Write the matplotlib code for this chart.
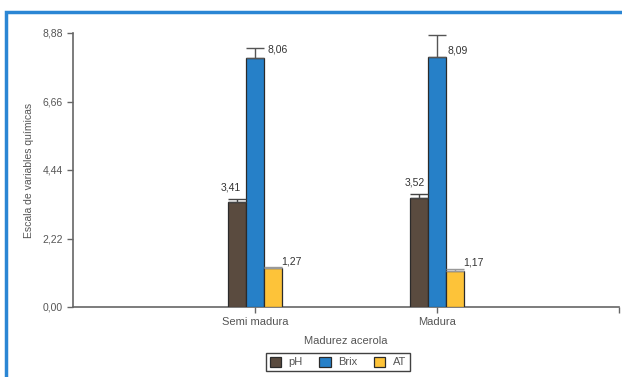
import numpy as np
import matplotlib
matplotlib.use("Agg")
import matplotlib.pyplot as plt
from matplotlib.patches import Rectangle, Patch

plt.rcParams['font.family'] = ['Liberation Sans', 'DejaVu Sans']

# data
categories = ['Semi madura', 'Madura']
series = ['pH', 'Brix', 'AT']
values = {
    'pH':   [3.41, 3.52],
    'Brix': [8.06, 8.09],
    'AT':   [1.27, 1.17],
}
errors = {
    'pH':   [0.10, 0.15],
    'Brix': [0.33, 0.71],
    'AT':   [0.03, 0.05],
}
labels = {
    'pH':   ['3,41', '3,52'],
    'Brix': ['8,06', '8,09'],
    'AT':   ['1,27', '1,17'],
}
yticks = [0.0, 2.22, 4.44, 6.66, 8.88]
ytick_labels = ['0,00', '2,22', '4,44', '6,66', '8,88']

colors = {'pH': '#5a4b3f', 'Brix': '#2680c8', 'AT': '#fdc339'}
err_colors = {'pH': '#444444', 'Brix': '#555555', 'AT': '#999999'}
gray = '#555555'

fig = plt.figure(figsize=(6.22, 3.77), dpi=100)
ax = fig.add_axes([73 / 622, 70 / 377, 546 / 622, 274 / 377])

x = np.arange(1, len(categories) + 1)
w = 0.1
offsets = {'pH': -w, 'Brix': 0.0, 'AT': w}

# label offsets in pixels (dx, dy, ha)
lab_off = {
    'pH':   [(-6, 6, 'center'), (-4, 6, 'center')],
    'Brix': [(12, -6, 'left'), (10, -20, 'left')],
    'AT':   [(8, 0, 'left'), (8, 2, 'left')],
}

for s in series:
    xs = x + offsets[s]
    ax.bar(xs, values[s], width=w * 0.97, color=colors[s], edgecolor='#2b2b2b',
           linewidth=0.9, zorder=3)
    ax.errorbar(xs, values[s], yerr=[[0] * len(xs), errors[s]], fmt='none',
                ecolor=err_colors[s], elinewidth=1, capsize=6.5, capthick=1, zorder=4)
    for i in range(len(xs)):
        dx, dy, ha = lab_off[s][i]
        ax.annotate(labels[s][i], (xs[i], values[s][i] + errors[s][i]),
                    xytext=(dx, dy), textcoords='offset pixels', ha=ha, va='bottom',
                    fontsize=7.5, color='#333333')

ax.set_xlim(0, 3)
ax.set_ylim(0, 8.88)
ax.set_yticks(yticks)
ax.set_yticklabels(ytick_labels)
ax.set_xticks([1, 2, 3])
ax.set_xticklabels(categories + [''])

for sp in ['top', 'right']:
    ax.spines[sp].set_visible(False)
for sp in ['left', 'bottom']:
    ax.spines[sp].set_color('#666666')
    ax.spines[sp].set_linewidth(1.2)
ax.tick_params(colors='#666666', labelcolor=gray, length=4, width=1)
ax.tick_params(axis='y', labelsize=7.5)
ax.tick_params(axis='x', labelsize=8)

ax.set_xlabel('Madurez acerola', fontsize=8, color=gray, labelpad=6)
ax.set_ylabel('Escala de variables químicas', fontsize=7.5, color=gray)
ax.yaxis.set_label_coords(-0.072, 0.5)

handles = [Patch(facecolor=colors[s], edgecolor='#2b2b2b', linewidth=0.9) for s in series]
leg = fig.legend(handles, series, loc='center', bbox_to_anchor=(338 / 622, 15 / 377),
                 ncol=3, fontsize=8, frameon=True, fancybox=False,
                 handlelength=1.0, handleheight=1.0, handletextpad=0.7,
                 columnspacing=1.5, borderpad=0.35, labelcolor=gray)
leg.get_frame().set_edgecolor('#111111')
leg.get_frame().set_linewidth(1.0)

# blue frame around the panel
fig.patches.append(Rectangle((6 / 622, -0.2), 1.2, (365.5 / 377) + 0.2,
                             transform=fig.transFigure, fill=False,
                             edgecolor='#2b86d4', linewidth=2.5, clip_on=False))

fig.savefig('out.png', dpi=100)
